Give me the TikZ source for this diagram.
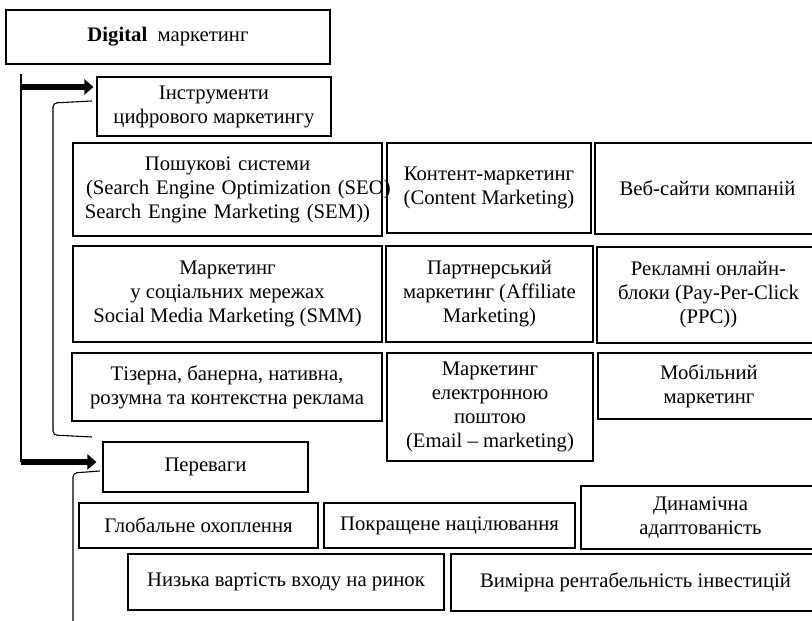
\documentclass[tikz,border=0pt]{standalone}
\usepackage{fontspec}
\setmainfont{Liberation Serif}
\usetikzlibrary{arrows.meta}
\begin{document}
\begin{tikzpicture}[x=1pt,y=-1pt,
  box/.style={draw, line width=1.1pt, inner sep=1pt, align=center,
    font=\fontsize{20.7}{24}\selectfont},
  thinline/.style={line width=1.1pt},
  bigarrow/.style={line width=5.5pt, -{Triangle[length=9pt,width=15pt]}},
]
\useasboundingbox (0,0) rectangle (812,621);
\begin{scope}
\clip (0,0) rectangle (812,621);
% boxes
\node[box, minimum width=324pt, minimum height=54pt] (top) at (168,37) {\textbf{Digital}\ \ маркетинг};
\node[box, minimum width=234pt, minimum height=59pt] (instr) at (214,106.5) {Інструменти\\цифрового маркетингу};
\node[box, text width=305pt, minimum height=93pt, inner sep=2pt] (seo) at (227.5,189.5) {\mbox{Пошукові системи}\\\mbox{\hspace*{11pt}(Search Engine Optimization (SEO)}\\\mbox{Search Engine Marketing (SEM))}};
\node[box, minimum width=204pt, minimum height=90pt] (content) at (489,188) {Контент-маркетинг\\(Content Marketing)};
\node[box, minimum width=225pt, minimum height=91pt] (web) at (707.5,188.5) {Веб-сайти компаній};
\node[box, minimum width=309pt, minimum height=96pt] (smm) at (227.5,294) {Маркетинг\\у соціальних мережах\\Social Media Marketing (SMM)};
\node[box, minimum width=207pt, minimum height=96pt] (aff) at (489.5,294) {Партнерський\\маркетинг (Affiliate\\Marketing)};
\node[box, minimum width=223pt, minimum height=96pt] (ppc) at (708.5,295) {Рекламні онлайн-\\блоки (Pay-Per-Click\\(PPC))};
\node[box, minimum width=310pt, minimum height=68pt] (teaser) at (227,387) {Тізерна, банерна, нативна,\\розумна та контекстна реклама};
\node[box, minimum width=206pt, minimum height=108pt] (email) at (490,407) {Маркетинг\\електронною\\поштою\\(Email – marketing)};
\node[box, minimum width=222pt, minimum height=66pt] (mobile) at (709,386) {Мобільний\\маркетинг};
\node[box, minimum width=205pt, minimum height=50pt] (perev) at (205.5,467) {Переваги};
\node[box, minimum width=239pt, minimum height=45pt] (glob) at (198.5,525.5) {Глобальне охоплення};
\node[box, minimum width=251pt, minimum height=45pt] (pokr) at (449.5,525.5) {Покращене націлювання};
\node[box, minimum width=239pt, minimum height=63pt] (dyn) at (700.5,517.5) {Динамічна\\адаптованість};
\node[box, minimum width=316pt, minimum height=56pt] (nyz) at (286,582) {Низька вартість входу на ринок};
\node[box, minimum width=369pt, minimum height=57pt] (vym) at (635.5,582.5) {Вимірна рентабельність інвестицій};
% connectors
\coordinate (s0) at (21,74);
\coordinate (j1) at (21,87);
\coordinate (j2) at (21,462);
\draw[thinline] (s0) -- (j2);
\draw[bigarrow, shorten >=3pt] (j1) -- (j1 -| instr.west);
\draw[bigarrow, shorten >=6pt] ([xshift=-0.5pt]j2) -- (j2 -| perev.west);
\coordinate (b1) at (92,101);
\coordinate (b2) at (92,437);
\draw[thinline, rounded corners=4pt] (b1) -- (53,103) -- (53,435) -- (b2);
\coordinate (c1) at (100,471);
\coordinate (c2) at (73,630);
\draw[thinline, rounded corners=4pt] (c1) -- (73,473) -- (c2);
\end{scope}
\end{tikzpicture}
\end{document}
